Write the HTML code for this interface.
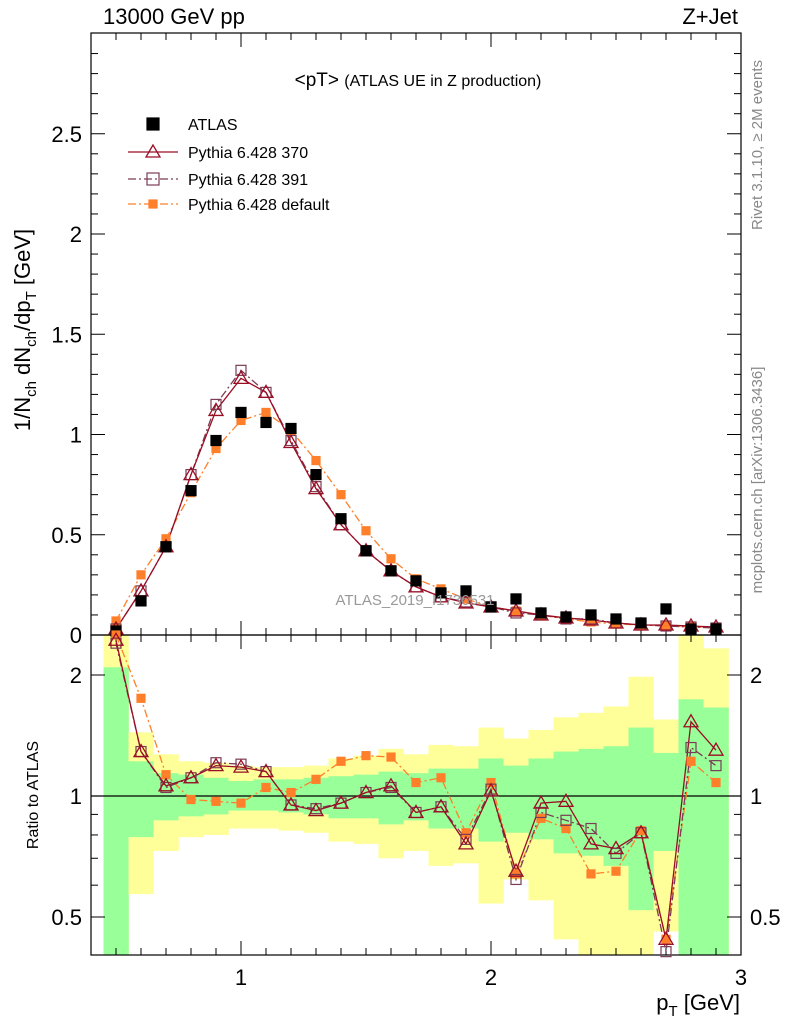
<!DOCTYPE html>
<html><head><meta charset="utf-8"><style>
body{margin:0;background:#fff}
svg{font-family:"Liberation Sans",sans-serif}
</style></head><body>
<svg id="c" width="786" height="1024" viewBox="0 0 786 1024"></svg>
<script>
const xs=[0.5,0.6,0.7,0.8,0.9,1.0,1.1,1.2,1.3,1.4,1.5,1.6,1.7,1.8,1.9,2.0,2.1,2.2,2.3,2.4,2.5,2.6,2.7,2.8,2.9];
const atlas=[0.02,0.17,0.44,0.72,0.97,1.11,1.06,1.03,0.80,0.58,0.42,0.32,0.27,0.21,0.22,0.14,0.18,0.11,0.09,0.10,0.08,0.06,0.13,0.03,0.03];
const py370=[0.03,0.22,0.44,0.80,1.12,1.28,1.21,0.96,0.73,0.55,0.42,0.32,0.24,0.19,0.16,0.14,0.12,0.10,0.085,0.075,0.06,0.05,0.05,0.045,0.04];
const py391=[0.03,0.22,0.44,0.80,1.15,1.32,1.21,0.97,0.74,0.55,0.42,0.32,0.24,0.19,0.165,0.14,0.11,0.10,0.08,0.08,0.06,0.05,0.045,0.04,0.035];
const pydef=[0.07,0.30,0.48,0.71,0.93,1.07,1.11,1.02,0.87,0.70,0.52,0.38,0.28,0.23,0.18,0.14,0.12,0.10,0.08,0.065,0.055,0.05,0.045,0.04,0.035];
const r370=[2.44,1.29,1.06,1.11,1.19,1.18,1.15,0.95,0.92,0.96,1.02,1.06,0.91,0.94,0.76,1.03,0.65,0.96,0.97,0.76,0.74,0.81,0.44,1.53,1.30];
const r391=[2.40,1.29,1.05,1.11,1.21,1.20,1.15,0.95,0.93,0.96,1.02,1.05,0.91,0.94,0.78,1.04,0.62,0.91,0.87,0.83,0.72,0.81,0.41,1.32,1.19];
const rdef=[2.55,1.75,1.13,0.98,0.97,0.96,1.05,1.02,1.10,1.22,1.26,1.25,1.08,1.11,0.81,1.08,0.64,0.88,0.83,0.64,0.65,0.82,0.44,1.22,1.08];
const yHi=[2.6,1.44,1.27,1.22,1.21,1.19,1.18,1.18,1.19,1.24,1.26,1.31,1.27,1.34,1.33,1.48,1.39,1.46,1.57,1.61,1.67,1.98,1.55,2.6,2.33];
const yLo=[0.38,0.57,0.73,0.79,0.80,0.83,0.83,0.82,0.81,0.77,0.76,0.70,0.73,0.67,0.68,0.54,0.62,0.55,0.44,0.38,0.38,0.38,0.46,0.38,0.38];
const gHi=[2.09,1.22,1.14,1.13,1.11,1.09,1.10,1.10,1.11,1.12,1.13,1.15,1.14,1.17,1.17,1.24,1.19,1.24,1.29,1.31,1.33,1.48,1.28,1.74,1.66];
const gLo=[0.38,0.79,0.87,0.89,0.90,0.92,0.92,0.91,0.90,0.88,0.88,0.85,0.87,0.83,0.83,0.77,0.81,0.78,0.72,0.71,0.67,0.52,0.73,0.38,0.38];
const yTicksTop=[0,0.5,1,1.5,2,2.5];
const rTicks=[0.5,1,2];

const NS="http://www.w3.org/2000/svg",svg=document.getElementById('c');
const L=91,R=741,T=33,M=635,B=955;
const X=v=>L+(v-0.4)*250;
const Y=v=>M-v*200.5;
const RY=v=>796-Math.log2(v)*121;
const RYc=v=>Math.max(M,Math.min(B,RY(v)));
function el(tag,a,p){const e=document.createElementNS(NS,tag);for(const k in a)e.setAttribute(k,a[k]);(p||svg).appendChild(e);return e;}
function txt(s,x,y,a,p){const e=el('text',Object.assign({x:x,y:y},a),p);e.textContent=s;return e;}

const gb=el('g',{});


xs.forEach((x,i)=>{
  const y1=RYc(yHi[i]),y2=RYc(yLo[i]);
  const r=el('rect',{x:X(x-0.05),y:y1,width:25.3,height:y2-y1,fill:'#ffff99'},gb);
  
  
  const g1=RYc(gHi[i]),g2=RYc(gLo[i]);
  const r2=el('rect',{x:X(x-0.05),y:g1,width:25.3,height:g2-g1,fill:'#99ff99'},gb);
  
  
});
el('line',{x1:L,x2:R,y1:RY(1),y2:RY(1),stroke:'#000','stroke-width':1.2});

el('rect',{x:L,y:T,width:R-L,height:M-T,fill:'none',stroke:'#000','stroke-width':1.2});
el('rect',{x:L,y:M,width:R-L,height:B-M,fill:'none',stroke:'#000','stroke-width':1.2});

for(let k=4;k<=30;k++){const v=k/10,x=X(v),maj=(k%10===0),h=maj?14:7;
  [[M,-1],[T,1],[B,-1],[M,1]].forEach(([y,d])=>el('line',{x1:x,x2:x,y1:y,y2:y+d*h,stroke:'#000','stroke-width':1}));
}
[1,2,3].forEach(v=>{const t=txt(String(v),X(v),985,{'font-size':22,'text-anchor':'middle'});});
for(let k=0;k<=29;k++){const v=k/10,y=Y(v),maj=(k%5===0),h=maj?14:7;
  el('line',{x1:L,x2:L+h,y1:y,y2:y,stroke:'#000'});el('line',{x1:R,x2:R-h,y1:y,y2:y,stroke:'#000'});}
yTicksTop.forEach(v=>{const t=txt(String(v),82,Y(v)+8,{'font-size':22,'text-anchor':'end'});});
[0.4,0.5,0.6,0.7,0.8,0.9,1,2].forEach(v=>{const y=RY(v),maj=rTicks.includes(v),h=maj?14:7;if(y<M||y>B)return;
  el('line',{x1:L,x2:L+h,y1:y,y2:y,stroke:'#000'});el('line',{x1:R,x2:R-h,y1:y,y2:y,stroke:'#000'});});
rTicks.forEach(v=>{const t=txt(String(v),82,RY(v)+8,{'font-size':22,'text-anchor':'end'});
  const t2=txt(String(v),750,RY(v)+8,{'font-size':22});});

function line(vals,fy,col,dash,name){
  const p=el('polyline',{points:xs.map((x,i)=>X(x)+','+fy(vals[i])).join(' '),fill:'none',stroke:col,'stroke-width':1.3,'stroke-dasharray':dash});
  
  
}
function tri(x,y,col,g){const m=el('polygon',{points:`${x},${y-7} ${x-7},${y+5} ${x+7},${y+5}`,fill:'none',stroke:col,'stroke-width':1.3},g);}
function sq(x,y,col,g,fill,s,nm){const m=el('rect',{x:x-s,y:y-s,width:2*s,height:2*s,fill:fill,stroke:col,'stroke-width':1.2},g);}
const c370='#9a0e24',c391='#7a3c56',cdef='#ff7f2a';
function drawSeries(fy,v370,v391,vdef){
  line(vdef,fy,cdef,'8,3,2,3','line-default');
  line(v391,fy,c391,'8,3,2,3','line-391');
  line(v370,fy,c370,'','line-370');
  xs.forEach((x,i)=>{sq(X(x),fy(vdef[i]),cdef,svg,cdef,4,'marker-default');sq(X(x),fy(v391[i]),c391,svg,'none',5,'marker-391');tri(X(x),fy(v370[i]),c370,svg);});
}
drawSeries(Y,py370,py391,pydef);
xs.forEach((x,i)=>sq(X(x),Y(atlas[i]),'#000',svg,'#000',5,'atlas-point'));
drawSeries(RYc,r370,r391,rdef);

const lab=[["13000 GeV pp",103,24,{'font-size':22},'energy-label'],["Z+Jet",738,24,{'font-size':22,'text-anchor':'end'},'process-label'],
["ATLAS_2019_I1736531",415,605,{'font-size':15,fill:'#999','text-anchor':'middle'},'analysis-watermark']];
lab.forEach(a=>{const t=txt(a[0],a[1],a[2],a[3]);});
const ti=el('text',{x:418,y:86,'font-size':19,'text-anchor':'middle'});ti.innerHTML='&lt;pT&gt; <tspan font-size="16">(ATLAS UE in Z production)</tspan>';

const xl=el('text',{x:740,y:1010,'font-size':22,'text-anchor':'end'});xl.innerHTML='p<tspan font-size="15" dy="6">T</tspan><tspan dy="-6"> [GeV]</tspan>';

const yl=el('text',{transform:'translate(30,330) rotate(-90)','font-size':22,'text-anchor':'middle'});
yl.innerHTML='1/N<tspan font-size="15" dy="6">ch</tspan><tspan dy="-6"> dN</tspan><tspan font-size="15" dy="6">ch</tspan><tspan dy="-6">/dp</tspan><tspan font-size="15" dy="6">T</tspan><tspan dy="-6"> [GeV]</tspan>';

const rl=txt('Ratio to ATLAS',38,795,{'font-size':16,'text-anchor':'middle',transform:'rotate(-90 38 795)'});
const s1=txt('Rivet 3.1.10, ≥ 2M events',762,145,{'font-size':15,fill:'#888','text-anchor':'middle',transform:'rotate(-90 762 145)'});
const s2=txt('mcplots.cern.ch [arXiv:1306.3436]',762,480,{'font-size':15,fill:'#888','text-anchor':'middle',transform:'rotate(-90 762 480)'});

const lg=el('g',{});
const ly=[124,152,179,204];
sq(153,ly[0],'#000',lg,'#000',6,'legend-atlas-marker');
el('line',{x1:128,x2:178,y1:ly[1],y2:ly[1],stroke:c370,'stroke-width':1.3},lg);tri(153,ly[1],c370,lg);
el('line',{x1:128,x2:178,y1:ly[2],y2:ly[2],stroke:c391,'stroke-width':1.3,'stroke-dasharray':'8,3,2,3'},lg);sq(153,ly[2],c391,lg,'none',6,'legend-391-marker');
el('line',{x1:128,x2:178,y1:ly[3],y2:ly[3],stroke:cdef,'stroke-width':1.3,'stroke-dasharray':'8,3,2,3'},lg);sq(153,ly[3],cdef,lg,cdef,4,'legend-default-marker');
['ATLAS','Pythia 6.428 370','Pythia 6.428 391','Pythia 6.428 default'].forEach((s,i)=>{const t=txt(s,188,ly[i]+6,{'font-size':16},lg);});
</script>
</body></html>
